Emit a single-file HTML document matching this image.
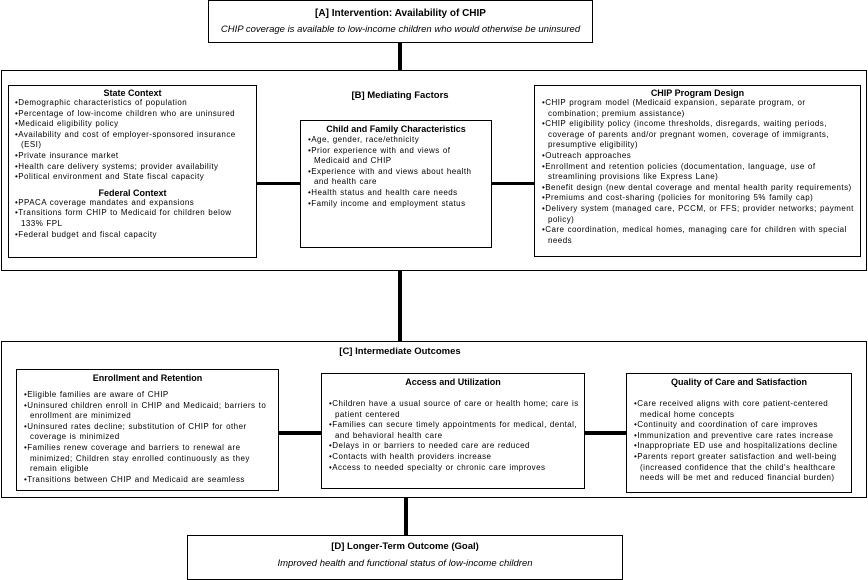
<!DOCTYPE html>
<html><head><style>
body{margin:0;width:868px;height:576px;background:#fff;position:relative;font-family:"Liberation Sans",Arial,sans-serif;color:#000;overflow:hidden}
.b{position:absolute;border:1px solid #000;box-sizing:border-box;background:#fff}
.o{border-width:1.5px}
.t{font-weight:bold;font-size:9px;text-align:center}
ul{margin:0;padding:0;list-style:none;font-size:8px;line-height:10.6px;letter-spacing:0.45px;word-spacing:0.5px}
li{padding-left:8px;text-indent:-6px}
li:before{content:"\2022 ";}
.l{position:absolute;background:#000}
</style></head><body>
<div class="b o" style="left:208px;top:0;width:385px;height:43px;text-align:center">
<div class="t" style="font-size:10px;margin-top:7px">[A] Intervention: Availability of CHIP</div>
<div style="font-size:9.5px;font-style:italic;margin-top:5px">CHIP coverage is available to low-income children who would otherwise be uninsured</div></div>
<div class="l" style="left:398px;top:43px;width:4px;height:27px"></div>
<div class="b o" style="left:1px;top:70px;width:866px;height:201px"></div>
<div class="t" style="position:absolute;left:300px;width:200px;top:90px;font-size:9.5px">[B] Mediating Factors</div>
<div class="b" style="left:8px;top:85px;width:249px;height:173px;padding:2px 4px">
<div class="t">State Context</div>
<ul><li>Demographic characteristics of population</li><li>Percentage of low-income children who are uninsured</li><li>Medicaid eligibility policy</li><li>Availability and cost of employer-sponsored insurance (ESI)</li><li>Private insurance market</li><li>Health care delivery systems; provider availability</li><li>Political environment and State fiscal capacity</li></ul>
<div class="t" style="margin-top:5px">Federal Context</div>
<ul><li>PPACA coverage mandates and expansions</li><li>Transitions form CHIP to Medicaid for children below 133% FPL</li><li>Federal budget and fiscal capacity</li></ul></div>
<div class="l" style="left:257px;top:182px;width:43px;height:3px"></div>
<div class="b" style="left:300px;top:120px;width:192px;height:128px;padding:3px 5px">
<div class="t">Child and Family Characteristics</div>
<ul style="margin-top:1px"><li>Age, gender, race/ethnicity</li><li>Prior experience with and views of Medicaid and CHIP</li><li>Experience with and views about health and health care</li><li>Health status and health care needs</li><li>Family income and employment status</li></ul></div>
<div class="l" style="left:492px;top:182px;width:42px;height:3px"></div>
<div class="b" style="left:534px;top:85px;width:327px;height:172px;padding:2px 5px">
<div class="t">CHIP Program Design</div>
<ul><li>CHIP program model (Medicaid expansion, separate program, or combination; premium assistance)</li><li>CHIP eligibility policy (income thresholds, disregards, waiting periods, coverage of parents and/or pregnant women, coverage of immigrants, presumptive eligibility)</li><li>Outreach approaches</li><li>Enrollment and retention policies (documentation, language, use of streamlining provisions like Express Lane)</li><li>Benefit design (new dental coverage and mental health parity requirements)</li><li>Premiums and cost-sharing (policies for monitoring 5% family cap)</li><li>Delivery system (managed care, PCCM, or FFS; provider networks; payment policy)</li><li>Care coordination, medical homes, managing care for children with special needs</li></ul></div>
<div class="l" style="left:398px;top:271px;width:4px;height:70px"></div>
<div class="b o" style="left:1px;top:341px;width:866px;height:157px"></div>
<div class="t" style="position:absolute;left:300px;width:200px;top:346px;font-size:9.5px">[C] Intermediate Outcomes</div>
<div class="b" style="left:16px;top:369px;width:263px;height:122px;padding:3px 5px">
<div class="t" style="margin-bottom:7px">Enrollment and Retention</div>
<ul><li>Eligible families are aware of CHIP</li><li>Uninsured children enroll in CHIP and Medicaid; barriers to enrollment are minimized</li><li>Uninsured rates decline; substitution of CHIP for other coverage is minimized</li><li>Families renew coverage and barriers to renewal are minimized; Children stay enrolled continuously as they remain eligible</li><li>Transitions between CHIP and Medicaid are seamless</li></ul></div>
<div class="l" style="left:279px;top:431px;width:42px;height:4px"></div>
<div class="b" style="left:321px;top:373px;width:264px;height:116px;padding:3px 5px">
<div class="t" style="margin-bottom:12px">Access and Utilization</div>
<ul><li>Children have a usual source of care or health home; care is patient centered</li><li>Families can secure timely appointments for medical, dental, and behavioral health care</li><li>Delays in or barriers to needed care are reduced</li><li>Contacts with health providers increase</li><li>Access to needed specialty or chronic care improves</li></ul></div>
<div class="l" style="left:585px;top:431px;width:41px;height:4px"></div>
<div class="b" style="left:626px;top:373px;width:226px;height:120px;padding:3px 5px">
<div class="t" style="margin-bottom:12px">Quality of Care and Satisfaction</div>
<ul><li>Care received aligns with core patient-centered medical home concepts</li><li>Continuity and coordination of care improves</li><li>Immunization and preventive care rates increase</li><li>Inappropriate ED use and hospitalizations decline</li><li>Parents report greater satisfaction and well-being (increased confidence that the child's healthcare needs will be met and reduced financial burden)</li></ul></div>
<div class="l" style="left:404px;top:498px;width:4px;height:37px"></div>
<div class="b o" style="left:187px;top:535px;width:436px;height:45px;text-align:center">
<div class="t" style="font-size:9.5px;margin-top:5px">[D] Longer-Term Outcome (Goal)</div>
<div style="font-size:9.5px;font-style:italic;margin-top:6px">Improved health and functional status of low-income children</div></div>
</body></html>
